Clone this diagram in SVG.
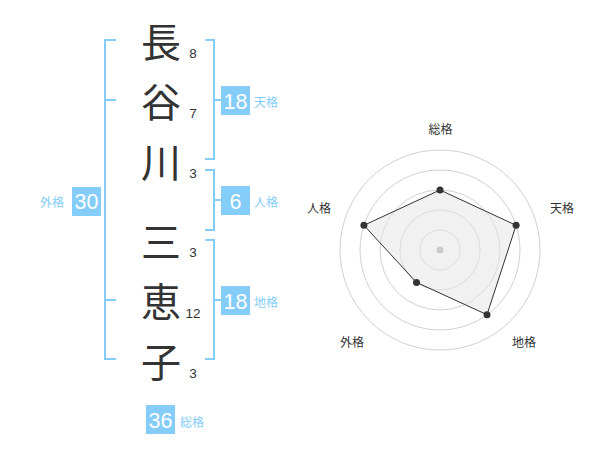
<svg xmlns="http://www.w3.org/2000/svg" width="600" height="470" viewBox="0 0 600 470">
<style>
.ch{font-family:"Noto Sans CJK JP","Noto Sans CJK SC",sans-serif;font-size:40px;fill:#333;text-anchor:middle}
.num{font-family:"Liberation Sans",Arial,sans-serif;font-size:13.5px;fill:#333;text-anchor:middle}
.br{fill:none;stroke:#85cdf9;stroke-width:2}
.box{fill:#85cdf9}
.bt{font-family:"Liberation Sans",Arial,sans-serif;font-size:21.5px;fill:#fff;text-anchor:middle}
.lb{font-family:"Noto Sans CJK JP","Noto Sans CJK SC",sans-serif;font-size:12px;fill:#85cdf9}
.rl{font-family:"Noto Sans CJK JP","Noto Sans CJK SC",sans-serif;font-size:12px;fill:#333;text-anchor:middle}
.ring{fill:none;stroke:#d0d0d0;stroke-width:1}
.pt{fill:#333}
</style>
<g id="chars">
<text class="ch" x="161" y="56.5">長</text>
<text class="ch" x="161" y="116.5">谷</text>
<text class="ch" x="161" y="176.5">川</text>
<text class="ch" x="161" y="256.5">三</text>
<text class="ch" x="161" y="316.5">恵</text>
<text class="ch" x="161" y="376.5">子</text>
</g>
<g id="strokes">
<text class="num" x="193" y="58">8</text>
<text class="num" x="193" y="118">7</text>
<text class="num" x="193" y="178">3</text>
<text class="num" x="193" y="257">3</text>
<text class="num" x="193" y="318">12</text>
<text class="num" x="193" y="378">3</text>
</g>
<g id="connectors">
<path class="br" d="M116,40 H105 V359 H116 M105,100 H116 M105,300 H116"/>
<path class="br" d="M205,40 H214 V159 H205 M214,100 H221"/>
<path class="br" d="M205,170 H214 V230 H205 M214,200 H221"/>
<path class="br" d="M205,240 H214 V359 H205 M214,300 H221"/>
</g>
<g id="gaikaku">
<rect class="box" x="72" y="187" width="29" height="29"/>
<text class="bt" x="86.5" y="209">30</text>
<text class="lb" x="40" y="206.5">外格</text>
</g>
<g id="tenkaku">
<rect class="box" x="221" y="86" width="29" height="29"/>
<text class="bt" x="235.5" y="108.5">18</text>
<text class="lb" x="254" y="106.5">天格</text>
</g>
<g id="jinkaku">
<rect class="box" x="221" y="186" width="29" height="29"/>
<text class="bt" x="235.5" y="208.5">6</text>
<text class="lb" x="254" y="206.5">人格</text>
</g>
<g id="chikaku">
<rect class="box" x="221" y="286" width="29" height="29"/>
<text class="bt" x="235.5" y="308.5">18</text>
<text class="lb" x="254" y="306.5">地格</text>
</g>
<g id="soukaku">
<rect class="box" x="146" y="405" width="29" height="29"/>
<text class="bt" x="160.5" y="427.5">36</text>
<text class="lb" x="180" y="426.5">総格</text>
</g>
<g id="radar">
<circle class="ring" cx="440" cy="250" r="20"/>
<circle class="ring" cx="440" cy="250" r="40"/>
<circle class="ring" cx="440" cy="250" r="60"/>
<circle class="ring" cx="440" cy="250" r="80"/>
<circle class="ring" cx="440" cy="250" r="100"/>
<polygon points="440,190 516.1,225.3 487,314.7 416.5,282.4 363.9,225.3" fill="#e6e6e6" fill-opacity="0.55" stroke="#333" stroke-width="1"/>
<circle cx="440" cy="250" r="3.5" fill="#ccc"/>
<circle class="pt" cx="440" cy="190" r="3.5"/>
<circle class="pt" cx="516.1" cy="225.3" r="3.5"/>
<circle class="pt" cx="487" cy="314.7" r="3.5"/>
<circle class="pt" cx="416.5" cy="282.4" r="3.5"/>
<circle class="pt" cx="363.9" cy="225.3" r="3.5"/>
<text class="rl" x="440.5" y="134">総格</text>
<text class="rl" x="562" y="212.5">天格</text>
<text class="rl" x="524" y="346.5">地格</text>
<text class="rl" x="352" y="346.5">外格</text>
<text class="rl" x="319" y="213">人格</text>
</g>
</svg>
